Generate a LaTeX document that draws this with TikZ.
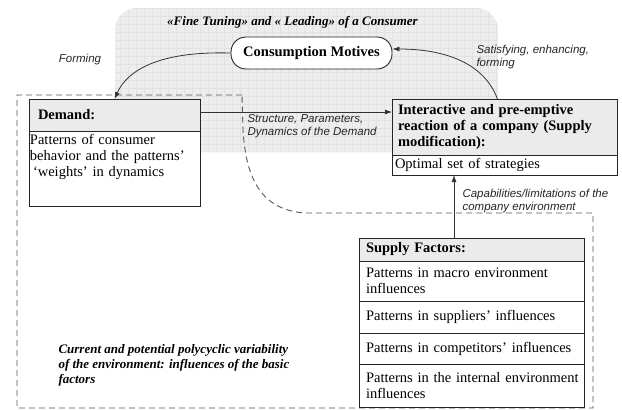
\documentclass[tikz,border=0pt]{standalone}
\usepackage{fontspec}
\setmainfont{Liberation Serif}
\newfontfamily\notefont{Liberation Sans}
\usepackage{tikz}
\usetikzlibrary{arrows.meta}

\definecolor{zonegray}{RGB}{237,237,237}
\definecolor{gridgray}{RGB}{226,226,226}
\definecolor{headgray}{RGB}{235,235,235}

\tikzset{
  box/.style={draw=black!85,line width=0.9pt,anchor=north west,align=left,outer sep=0pt,
              inner xsep=6pt,inner ysep=0pt,font=\fontsize{14.5}{16}\selectfont},
  head/.style={box,fill=headgray,font=\fontsize{14.5}{16}\selectfont\bfseries},
  cell/.style={box,fill=white},
  motive/.style={draw=black!85,line width=0.9pt,fill=white,rounded corners=15pt,
                 minimum width=161pt,minimum height=32pt,
                 font=\fontsize{14.5}{16}\selectfont\bfseries},
  note/.style={align=left,text=black!85,font=\notefont\fontsize{11.5}{13}\selectfont\itshape},
  envnote/.style={align=left,anchor=north west,font=\fontsize{13}{15}\selectfont\bfseries\itshape},
  flow/.style={draw=black!80,line width=0.8pt,-{Latex[length=7pt,width=5pt]}},
  envline/.style={draw=black!65,line width=0.9pt,dash pattern=on 6pt off 4pt}
}

\begin{document}
\begin{tikzpicture}[x=1pt,y=-1pt]
  \useasboundingbox (0,0) rectangle (622,410);

  % consumer zone
  \begin{scope}
    \fill[zonegray,rounded corners=22pt] (115,8) rectangle (498,152);
    \clip[rounded corners=22pt] (115,8) rectangle (498,152);
    \draw[gridgray,line width=0.4pt,step=8pt] (115,8) grid (498,152);
  \end{scope}

  % environment border
  \draw[envline] (242,95) -- (17,95) -- (17,408) -- (593,408) -- (593,213)
    -- (305,213) .. controls (262,210) and (246,180) .. (243,130) -- cycle;

  \node[font=\fontsize{13}{15}\selectfont\bfseries\itshape] (tuning) at (292.5,22)
    {«Fine Tuning» and « Leading» of a Consumer};
  \node[motive] (motives) at (311.5,53) {Consumption Motives};

  \node[head,inner xsep=9pt,text width=153pt,minimum height=32pt] (demand) at (29,99) {Demand:};
  \node[cell,inner xsep=1pt,text width=169pt] (patterns) at (demand.south west)
    {\parbox[c][75pt][t]{169pt}{\vspace{3pt}Patterns of consumer\\
     behavior and the patterns’\\ \hspace*{3pt}‘weights’ in dynamics}};

  \node[head,text width=213pt,minimum height=56pt] (reaction) at (392,99)
    {Interactive and pre-emptive\\ reaction of a company (Supply\\ modification):};
  \node[cell,inner xsep=3pt,text width=219pt,minimum height=20pt] (strategies) at (reaction.south west)
    {Optimal set of strategies};

  \node[head,text width=211pt,inner xsep=7pt,minimum height=23pt] (factors) at (359,238) {Supply Factors:};
  \node[cell,text width=211pt,inner xsep=7pt,minimum height=40pt] (macro) at (factors.south west)
    {Patterns in macro environment\\ influences};
  \node[cell,text width=211pt,inner xsep=7pt,minimum height=32pt] (suppliers) at (macro.south west)
    {Patterns in suppliers’ influences};
  \node[cell,text width=211pt,inner xsep=7pt,minimum height=31pt] (competitors) at (suppliers.south west)
    {Patterns in competitors’ influences};
  \node[cell,text width=211pt,inner xsep=7pt,minimum height=43pt] (internal) at (competitors.south west)
    {\mbox{Patterns in the internal environment}\\ influences};

  \node[note] (forming) at (80,60) {Forming};
  \node[note,anchor=west] (satisfying) at (473,57) {Satisfying, enhancing,\\ forming};
  \node[note,anchor=west] (structure) at (244,126) {Structure, Parameters,\\ Dynamics of the Demand};
  \node[note,anchor=west] (capabilities) at (459,201) {Capabilities/limitations of the\\ company environment};
  \node[envnote] (variability) at (55,341)
    {Current and potential polycyclic variability\\ of the environment: influences of the basic\\ factors};

  \draw[flow] ([yshift=3pt]demand.east) -- ([yshift=3pt]demand.east -| reaction.west);
  \draw[flow] (motives.west) .. controls +(-71,-2) and +(13,-29) .. (demand.north);
  \draw[flow] ([xshift=-7pt]reaction.north) .. controls +(-15,-40) and +(45,0) .. ([yshift=4pt]motives.east);
  \draw[flow] ([xshift=-17.5pt]factors.north) -- ([xshift=-17.5pt]factors.north |- strategies.south);

\end{tikzpicture}
\end{document}
